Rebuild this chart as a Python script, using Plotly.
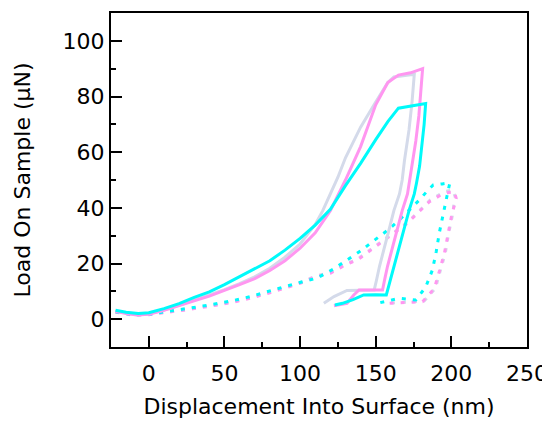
import plotly.graph_objects as go

# ---- data (nm, uN) ----
cyan_solid_x = [-22, -15, -7, 0, 10, 20, 30, 40, 50, 60, 70, 80, 90, 100, 110, 120, 130, 140, 150, 158, 165, 175, 183,
                182, 180.5, 179, 177, 175.5, 172, 169, 165.5, 162, 159.5, 157, 150, 142, 135, 128, 123]
cyan_solid_y = [3.2, 2.5, 2.0, 2.3, 3.8, 5.6, 7.8, 9.8, 12.4, 15.2, 18.0, 21.0, 24.8, 29.0, 33.8, 39.5, 48.0, 56.0, 64.5, 71.0, 75.8, 76.8, 77.5,
                70, 62, 55, 49, 45, 39, 33, 26, 19, 13.5, 8.7, 8.8, 8.7, 7.0, 5.7, 5.1]

pink_solid_x = [-22, -15, -8, 0, 10, 20, 30, 40, 50, 60, 70, 80, 90, 100, 110, 120, 130, 140, 150, 158, 165, 173, 181,
                180, 178.5, 176.5, 174.4, 172.5, 171, 167.5, 164.6, 161, 157.8, 156, 154.5, 139, 135.5, 131, 122.4]
pink_solid_y = [2.8, 2.0, 1.5, 1.8, 3.2, 4.8, 6.6, 8.3, 10.3, 12.4, 14.6, 17.5, 21.0, 25.5, 31.0, 39.0, 50.0, 62.0, 77.0, 85.0, 87.7, 88.5, 90.0,
                82, 73, 64, 57, 50, 45, 39, 33, 26, 19, 14.5, 10.5, 10.5, 8.7, 5.7, 4.8]

gray_solid_x = [-22, -15, -8, 0, 10, 20, 30, 40, 50, 60, 70, 80, 90, 100, 110, 115, 120, 125, 130, 140, 150, 158, 162, 169, 175.5,
                174, 172, 169, 167.5, 165.7, 162, 159.2, 155.8, 152.5, 150.5, 149, 131, 122.4, 115.7]
gray_solid_y = [2.8, 2.1, 1.6, 1.9, 3.3, 5.0, 6.8, 8.6, 10.6, 12.8, 15.2, 18.3, 22.3, 27.0, 34.0, 39.0, 45.0, 51.0, 58.0, 69.0, 78.0, 85.0, 87.0, 87.5, 88.0,
                78, 68, 57, 50, 45, 39, 33, 26, 19, 14, 10.5, 10.3, 8.1, 5.7]

cyan_dot_x = [-22, -10, 0, 12, 25, 40, 55, 67, 80, 90, 102, 111, 122, 131, 140, 148, 158, 165.5, 172, 178.8, 184, 188, 194, 199,
              197, 194.3, 192, 190, 187.5, 183, 176.5, 165.5, 151]
cyan_dot_y = [2.7, 1.5, 1.8, 2.7, 3.8, 5.1, 6.6, 8.1, 10.0, 11.7, 13.5, 14.7, 18.0, 21.3, 24.5, 27.9, 32.0, 35.6, 39.0, 42.8, 46.0, 48.2, 48.6, 49.0,
              44.0, 37.4, 30.9, 24.3, 17.7, 11.5, 6.9, 7.5, 5.7]

pink_dot_x = [-22, -10, 0, 12, 25, 40, 55, 67, 80, 100, 110, 120, 130, 138, 146, 153, 162, 171, 177.5, 185.5, 193, 198, 202, 203.2,
              200, 197.5, 195.4, 192, 188.8, 181, 170, 159]
pink_dot_y = [2.5, 1.4, 1.6, 2.4, 3.4, 4.6, 6.0, 7.5, 9.5, 12.9, 15.2, 16.5, 19.5, 21.3, 24.5, 27.3, 31.0, 34.5, 38.0, 42.2, 44.6, 45.5, 45.8, 43.4,
              36.8, 30.3, 23.7, 17.1, 11.1, 6.3, 6.0, 5.7]

gray_dot_x = [-22, -10, 0, 12, 25, 40, 55, 67, 80, 100, 110, 120, 130, 138, 146, 153, 162, 171, 178, 186, 195.4, 201, 202.5,
              200.5, 198, 196, 192.5, 189.5, 182, 170, 160]
gray_dot_y = [2.6, 1.5, 1.7, 2.5, 3.5, 4.8, 6.2, 7.7, 9.7, 13.1, 15.4, 16.8, 19.8, 21.6, 24.8, 27.6, 31.3, 34.8, 38.5, 42.8, 45.8, 46.4, 44.0,
              36.8, 30.3, 23.7, 17.1, 11.1, 6.5, 6.1, 5.8]

CYAN = "rgb(0,250,250)"
PINK = "rgb(255,150,240)"
GRAY = "rgb(212,218,234)"
DOTS = "4px,7px"
FONT = "DejaVu Sans"

fig = go.Figure()
fig.add_trace(go.Scatter(x=gray_dot_x, y=gray_dot_y, mode="lines", line=dict(color=GRAY, width=3, dash=DOTS)))
fig.add_trace(go.Scatter(x=pink_dot_x, y=pink_dot_y, mode="lines", line=dict(color=PINK, width=3, dash=DOTS)))
fig.add_trace(go.Scatter(x=cyan_dot_x, y=cyan_dot_y, mode="lines", line=dict(color=CYAN, width=3, dash=DOTS)))
fig.add_trace(go.Scatter(x=gray_solid_x, y=gray_solid_y, mode="lines", line=dict(color=GRAY, width=3)))
fig.add_trace(go.Scatter(x=pink_solid_x, y=pink_solid_y, mode="lines", line=dict(color=PINK, width=3)))
fig.add_trace(go.Scatter(x=cyan_solid_x, y=cyan_solid_y, mode="lines", line=dict(color=CYAN, width=3)))

axis_common = dict(showline=True, linecolor="black", linewidth=2, mirror=True,
                   ticks="inside", ticklen=11, tickwidth=2, tickcolor="black",
                   showgrid=False, zeroline=False, automargin=False,
                   tickfont=dict(family=FONT, size=22, color="black"),
                   title_font=dict(family=FONT, size=22, color="black"))

fig.update_layout(
    width=542, height=411,
    margin=dict(l=103, r=23, t=5, b=72),
    paper_bgcolor="white", plot_bgcolor="white",
    showlegend=False,
    xaxis=dict(range=[-25, 250], tickvals=[0, 50, 100, 150, 200, 250],
               minor=dict(ticks="inside", ticklen=5, tickwidth=2, tickcolor="black", dtick=25, tick0=-25),
               ticklabelstandoff=6,
               title=dict(text="Displacement Into Surface (nm)", standoff=21),
               **axis_common),
    yaxis=dict(range=[-10, 110], tickvals=[0, 20, 40, 60, 80, 100],
               minor=dict(ticks="inside", ticklen=5, tickwidth=2, tickcolor="black", dtick=10, tick0=-10),
               title=dict(text="Load On Sample (μN)", standoff=26),
               **axis_common),
)

fig.write_html("out.html")
